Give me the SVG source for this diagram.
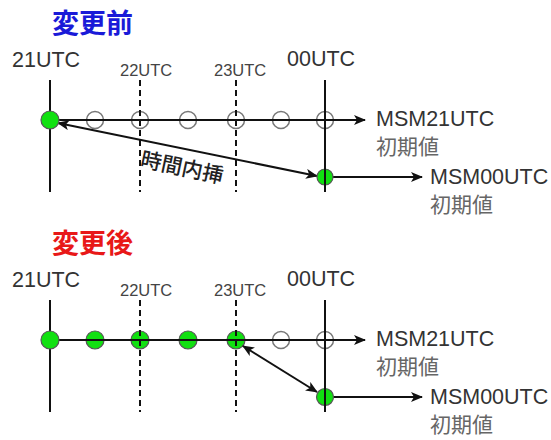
<svg xmlns="http://www.w3.org/2000/svg" width="551" height="440" viewBox="0 0 551 440">
<style>
text{font-family:"Liberation Sans","Noto Sans CJK JP",sans-serif}
.t{font-size:21.5px;fill:#333}
.s{font-size:16.5px;fill:#444}
.j{font-size:21px;fill:#666}
.ttl{font-size:27px;font-weight:bold}
.ln{stroke:#111;stroke-width:2;fill:none}
.ds{stroke:#111;stroke-width:2;fill:none;stroke-dasharray:6 4}
.oc{fill:none;stroke:#777;stroke-width:1.5}
.gc{fill:#11e011;stroke:#555;stroke-width:1.2}
</style>
<defs>
<marker id="ah" viewBox="0 0 12 10" refX="11" refY="5" markerWidth="12" markerHeight="10" markerUnits="userSpaceOnUse" orient="auto-start-reverse">
<path d="M0,0 L12,5 L0,10 L3,5 Z" fill="#111"/>
</marker>
</defs>

<g id="before">
<text class="ttl" x="52" y="33" fill="#1a1ad8">変更前</text>
<text class="t" x="12" y="67">21UTC</text>
<text class="s" x="120" y="76">22UTC</text>
<text class="s" x="214" y="76">23UTC</text>
<text class="t" x="287" y="66">00UTC</text>
<text class="t" x="376" y="126">MSM21UTC</text>
<text class="j" x="376" y="154">初期値</text>
<text class="t" x="430" y="184">MSM00UTC</text>
<text class="j" x="430" y="212">初期値</text>
<g id="before-points">
<circle class="oc" cx="95" cy="120" r="8.5"/>
<circle class="oc" cx="140" cy="120" r="8.5"/>
<circle class="oc" cx="188" cy="120" r="8.5"/>
<circle class="oc" cx="236" cy="120" r="8.5"/>
<circle class="oc" cx="281" cy="120" r="8.5"/>
<circle class="oc" cx="325" cy="120" r="8.5"/>
</g>
</g>

<g id="after">
<text class="ttl" x="52" y="253" fill="#e81818">変更後</text>
<text class="t" x="12" y="287">21UTC</text>
<text class="s" x="120" y="296">22UTC</text>
<text class="s" x="214" y="296">23UTC</text>
<text class="t" x="287" y="286">00UTC</text>
<text class="t" x="376" y="346">MSM21UTC</text>
<text class="j" x="376" y="374">初期値</text>
<text class="t" x="430" y="404">MSM00UTC</text>
<text class="j" x="430" y="432">初期値</text>
<g id="after-points">
<circle class="gc" cx="95" cy="340" r="9"/>
<circle class="gc" cx="140" cy="340" r="9"/>
<circle class="gc" cx="188" cy="340" r="9"/>
<circle class="gc" cx="236" cy="340" r="9"/>
<circle class="oc" cx="281" cy="340" r="8.5"/>
<circle class="oc" cx="325" cy="340" r="8.5"/>
</g>
</g>

<g id="connectors">
<line class="ln" x1="50" y1="80" x2="50" y2="192"/>
<line class="ds" x1="140" y1="80" x2="140" y2="192"/>
<line class="ds" x1="236" y1="80" x2="236" y2="192"/>
<line class="ln" x1="325" y1="80" x2="325" y2="192"/>
<line class="ln" x1="50" y1="120" x2="365" y2="120" marker-end="url(#ah)"/>
<line class="ln" x1="325" y1="177" x2="422" y2="177" marker-end="url(#ah)"/>
<line class="ln" x1="58" y1="123" x2="317" y2="176" marker-start="url(#ah)" marker-end="url(#ah)"/>

<line class="ln" x1="50" y1="300" x2="50" y2="412"/>
<line class="ds" x1="140" y1="300" x2="140" y2="412"/>
<line class="ds" x1="236" y1="300" x2="236" y2="412"/>
<line class="ln" x1="325" y1="300" x2="325" y2="412"/>
<line class="ln" x1="50" y1="340" x2="365" y2="340" marker-end="url(#ah)"/>
<line class="ln" x1="325" y1="397" x2="422" y2="397" marker-end="url(#ah)"/>
<line class="ln" x1="243" y1="346" x2="317" y2="392" marker-start="url(#ah)" marker-end="url(#ah)"/>
</g>

<g id="dots-top">
<circle class="gc" cx="50" cy="120" r="9"/>
<circle class="gc" cx="50" cy="340" r="9"/>
</g>
<g id="green-00">
<circle class="gc" cx="325" cy="177" r="8"/>
<line class="ln" x1="325" y1="168" x2="325" y2="186"/>
<circle class="gc" cx="325" cy="397" r="8.5"/>
<line class="ln" x1="325" y1="388" x2="325" y2="406"/>
<line class="ds" x1="140" y1="330" x2="140" y2="350"/>
<line class="ds" x1="236" y1="330" x2="236" y2="350"/>
</g>
<g id="label">
<text x="182" y="175" font-size="21" font-weight="500" fill="#222" text-anchor="middle" transform="rotate(12 182 168)">時間内挿</text>
</g>
</svg>
